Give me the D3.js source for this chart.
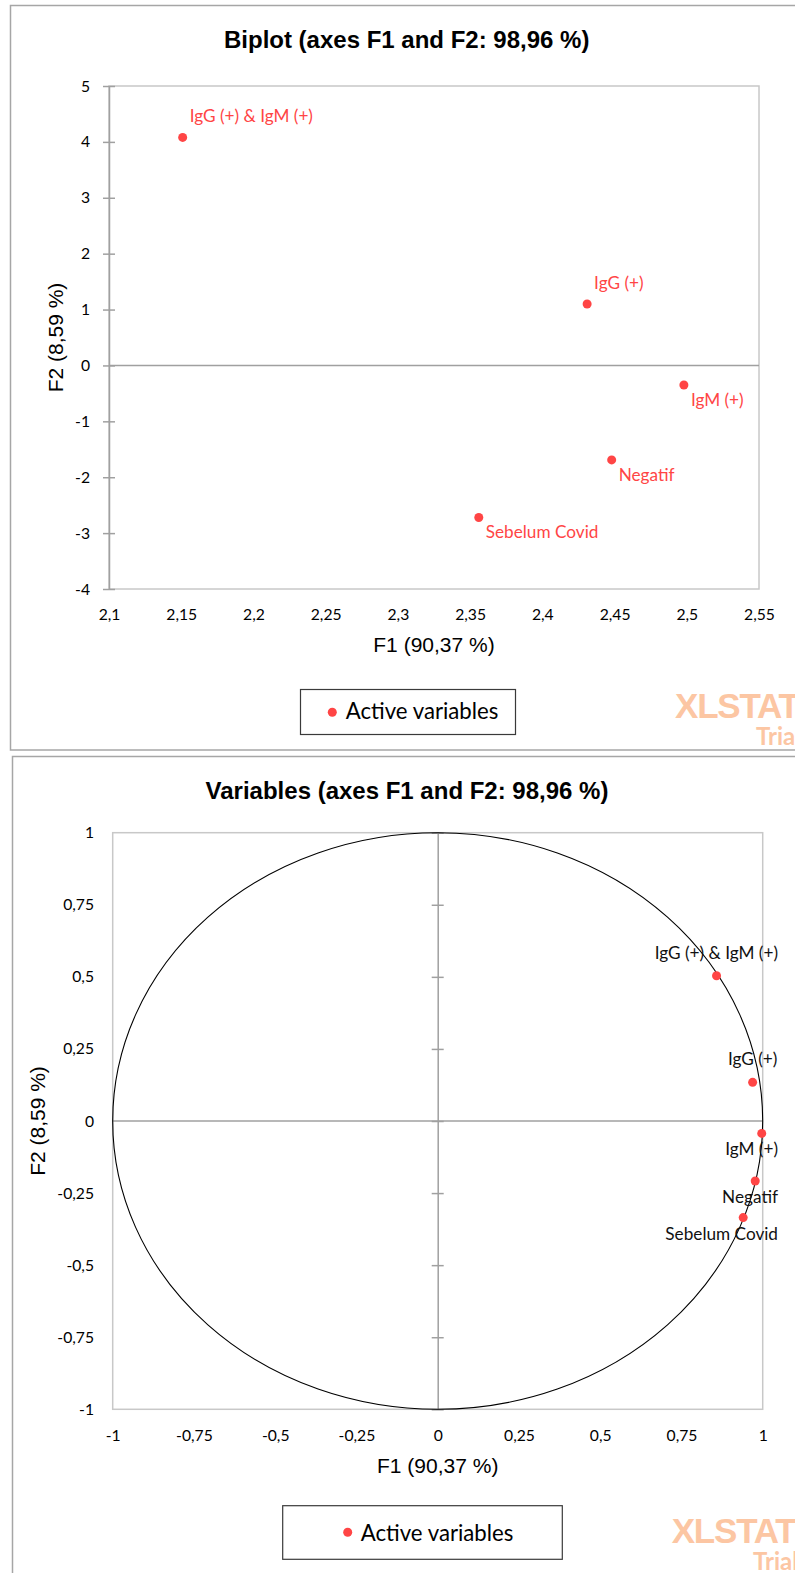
<!DOCTYPE html>
<html>
<head>
<meta charset="utf-8">
<script src="https://cdn.jsdelivr.net/npm/d3@7"></script>
<style>
  html, body { margin: 0; padding: 0; background: #fff; }
  svg { display: block; }
</style>
</head>
<body>
<div id="chart"></div>
<script>
// ---------------- DATA ----------------
const varNames = ["IgG (+) & IgM (+)", "IgG (+)", "IgM (+)", "Negatif", "Sebelum Covid"];

// Biplot (top)
const biplotF1 = [2.151, 2.431, 2.498, 2.448, 2.356];
const biplotF2 = [4.08, 1.10, -0.35, -1.69, -2.72];
const biplotLabelSide = ["above", "above", "below", "below", "below"];
const biplotXTicks = [2.1, 2.15, 2.2, 2.25, 2.3, 2.35, 2.4, 2.45, 2.5, 2.55];
const biplotYTicks = [-4, -3, -2, -1, 0, 1, 2, 3, 4, 5];

// Correlation circle (bottom)
const corrF1 = [0.858, 0.969, 0.997, 0.977, 0.940];
const corrF2 = [0.504, 0.134, -0.043, -0.208, -0.335];
const corrLabelSide = ["above", "above", "below", "below", "below"];
const corrTicks = [-1, -0.75, -0.5, -0.25, 0, 0.25, 0.5, 0.75, 1];

const titleTop = "Biplot (axes F1 and F2: 98,96 %)";
const titleBottom = "Variables (axes F1 and F2: 98,96 %)";
const xTitle = "F1 (90,37 %)";
const yTitle = "F2 (8,59 %)";
const legendText = "Active variables";

// ---------------- STYLE ----------------
const RED = "#ff4545";
const AXIS_GRAY = "#a0a0a0";
const BORDER_GRAY = "#c8c8c8";
const FRAME_GRAY = "#a6a6a6";
const WM = "#fcc6a3";
const SANS = "'Liberation Sans', Arial, sans-serif";
const CAL = "Lato, 'Open Sans', sans-serif";
const fmt = v => String(v).replace(".", ",");

const svg = d3.select("#chart").append("svg")
  .attr("width", 795).attr("height", 1573);
svg.append("rect").attr("width", 795).attr("height", 1573).attr("fill", "#fff");

// ---------- helpers ----------
function frame(x, y, w, h) {
  svg.append("rect").attr("x", x).attr("y", y).attr("width", w).attr("height", h)
    .attr("fill", "none").attr("stroke", FRAME_GRAY).attr("stroke-width", 1.5);
}
function title(txt, cx, baseline) {
  svg.append("text").attr("x", cx).attr("y", baseline).attr("text-anchor", "middle")
    .attr("font-family", SANS).attr("font-weight", "bold").attr("font-size", 24)
    .attr("fill", "#000").text(txt);
}
function legend(bx, by, bw, bh, dotX, dotY, textX, textBase) {
  svg.append("rect").attr("x", bx).attr("y", by).attr("width", bw).attr("height", bh)
    .attr("fill", "#fff").attr("stroke", "#3a3a3a").attr("stroke-width", 1.2);
  svg.append("circle").attr("cx", dotX).attr("cy", dotY).attr("r", 4.5).attr("fill", RED);
  svg.append("text").attr("x", textX).attr("y", textBase)
    .attr("font-family", CAL).attr("font-size", 22.2).attr("fill", "#000").text(legendText);
}
function watermark(x, base, trialX, trialBase) {
  svg.append("text").attr("x", x).attr("y", base)
    .attr("font-family", SANS).attr("font-weight", "bold").attr("font-size", 35)
    .attr("letter-spacing", -1.2).attr("fill", WM).text("XLSTAT");
  svg.append("text").attr("x", trialX).attr("y", trialBase)
    .attr("font-family", CAL).attr("font-weight", "bold").attr("font-size", 24)
    .attr("fill", WM).text("Trial");
}
function styleAxisText(g, size) {
  g.selectAll("text").attr("font-family", CAL).attr("font-size", size).attr("fill", "#000");
}

// =============== TOP: BIPLOT ===============
frame(10.5, 5.5, 800, 744.5);
title(titleTop, 406.7, 47.7);

const x1 = d3.scaleLinear().domain([2.1, 2.55]).range([109, 759]);
const y1 = d3.scaleLinear().domain([-4, 5]).range([589, 86]);

// plot area border
svg.append("rect").attr("x", x1(2.1)).attr("y", y1(5))
  .attr("width", x1(2.55) - x1(2.1)).attr("height", y1(-4) - y1(5))
  .attr("fill", "none").attr("stroke", BORDER_GRAY).attr("stroke-width", 1.5);

// zero line
svg.append("line").attr("x1", x1(2.1)).attr("x2", x1(2.55))
  .attr("y1", y1(0)).attr("y2", y1(0))
  .attr("stroke", AXIS_GRAY).attr("stroke-width", 1.5);

// y axis (cross ticks)
const gy1 = svg.append("g").attr("transform", `translate(${x1(2.1)},0)`)
  .call(d3.axisLeft(y1).tickValues(biplotYTicks).tickFormat(fmt)
    .tickSizeInner(6).tickSizeOuter(0).tickPadding(13));
gy1.select(".domain").attr("stroke", AXIS_GRAY).attr("stroke-width", 1.5);
gy1.selectAll(".tick line").attr("x1", -6).attr("x2", 6)
  .attr("stroke", AXIS_GRAY).attr("stroke-width", 1.5);
styleAxisText(gy1, 15.7);

// x axis labels (no ticks)
const gx1 = svg.append("g").attr("transform", `translate(0,${y1(-4)})`)
  .call(d3.axisBottom(x1).tickValues(biplotXTicks).tickFormat(fmt).tickSize(0));
gx1.select(".domain").remove();
styleAxisText(gx1, 15.7);
gx1.selectAll("text").attr("y", 31).attr("dy", null);

// axis titles
svg.append("text").attr("x", (x1(2.1) + x1(2.55)) / 2).attr("y", 651.7)
  .attr("text-anchor", "middle").attr("font-family", SANS).attr("font-size", 21)
  .attr("fill", "#000").text(xTitle);
svg.append("text").attr("transform", `translate(63.3,${(y1(5) + y1(-4)) / 2}) rotate(-90)`)
  .attr("text-anchor", "middle").attr("font-family", SANS).attr("font-size", 21)
  .attr("fill", "#000").text(yTitle);

// points + labels
const biplotData = varNames.map((n, i) => ({ n, f1: biplotF1[i], f2: biplotF2[i], side: biplotLabelSide[i] }));
svg.append("g").selectAll("circle").data(biplotData).join("circle")
  .attr("cx", d => x1(d.f1)).attr("cy", d => y1(d.f2)).attr("r", 4.5).attr("fill", RED);
svg.append("g").selectAll("text").data(biplotData).join("text")
  .attr("x", d => x1(d.f1) + 7)
  .attr("y", d => y1(d.f2) + (d.side === "above" ? -15 : 21))
  .attr("font-family", CAL).attr("font-size", 17.2).attr("fill", RED).text(d => d.n);

legend(300.5, 689.5, 215, 45, 332.3, 712.3, 345.7, 719.3);
watermark(675, 718, 756, 745);

// =============== BOTTOM: CORRELATION CIRCLE ===============
frame(12.5, 756.5, 800, 830);
title(titleBottom, 407, 799);

const x2 = d3.scaleLinear().domain([-1, 1]).range([112.7, 762.7]);
const y2 = d3.scaleLinear().domain([-1, 1]).range([1409.3, 832.7]);

svg.append("rect").attr("x", x2(-1)).attr("y", y2(1))
  .attr("width", x2(1) - x2(-1)).attr("height", y2(-1) - y2(1))
  .attr("fill", "none").attr("stroke", BORDER_GRAY).attr("stroke-width", 1.5);

// horizontal zero line
svg.append("line").attr("x1", x2(-1)).attr("x2", x2(1))
  .attr("y1", y2(0)).attr("y2", y2(0))
  .attr("stroke", AXIS_GRAY).attr("stroke-width", 1.5);

// vertical axis at x=0 with cross ticks (no labels)
const gyc = svg.append("g").attr("transform", `translate(${x2(0)},0)`)
  .call(d3.axisLeft(y2).tickValues(corrTicks).tickFormat("").tickSizeInner(6).tickSizeOuter(0));
gyc.select(".domain").attr("stroke", AXIS_GRAY).attr("stroke-width", 1.5);
gyc.selectAll(".tick line").attr("x1", -6).attr("x2", 6)
  .attr("stroke", AXIS_GRAY).attr("stroke-width", 1.5);

// y labels at the left
const gy2 = svg.append("g").attr("transform", `translate(${x2(-1)},0)`)
  .call(d3.axisLeft(y2).tickValues(corrTicks).tickFormat(fmt).tickSize(0).tickPadding(18.7));
gy2.select(".domain").remove();
styleAxisText(gy2, 15.7);

// x labels at bottom
const gx2 = svg.append("g").attr("transform", `translate(0,${y2(-1)})`)
  .call(d3.axisBottom(x2).tickValues(corrTicks).tickFormat(fmt).tickSize(0));
gx2.select(".domain").remove();
styleAxisText(gx2, 15.7);
gx2.selectAll("text").attr("y", 31.4).attr("dy", null);

// unit circle
svg.append("ellipse").attr("cx", x2(0)).attr("cy", y2(0))
  .attr("rx", x2(1) - x2(0)).attr("ry", y2(-1) - y2(0))
  .attr("fill", "none").attr("stroke", "#000").attr("stroke-width", 1.1);

svg.append("text").attr("x", x2(0)).attr("y", 1472.7)
  .attr("text-anchor", "middle").attr("font-family", SANS).attr("font-size", 21)
  .attr("fill", "#000").text(xTitle);
svg.append("text").attr("transform", `translate(45,${(y2(1) + y2(-1)) / 2}) rotate(-90)`)
  .attr("text-anchor", "middle").attr("font-family", SANS).attr("font-size", 21)
  .attr("fill", "#000").text(yTitle);

const corrData = varNames.map((n, i) => ({ n, f1: corrF1[i], f2: corrF2[i], side: corrLabelSide[i] }));
svg.append("g").selectAll("circle").data(corrData).join("circle")
  .attr("cx", d => x2(d.f1)).attr("cy", d => y2(d.f2)).attr("r", 4.5).attr("fill", RED);
const labelMaxRight = 778;
svg.append("g").selectAll("text").data(corrData).join("text")
  .attr("y", d => y2(d.f2) + (d.side === "above" ? -17 : 22))
  .attr("text-anchor", "middle")
  .attr("font-family", CAL).attr("font-size", 17.2).attr("fill", "#111").text(d => d.n)
  .attr("x", function (d) {
    const w = this.getComputedTextLength();
    return Math.min(x2(d.f1), labelMaxRight - w / 2);
  });

legend(282.7, 1505.7, 279.6, 53.6, 347.7, 1532.3, 360.7, 1540.7);
watermark(671.7, 1543.3, 753, 1570);
</script>
</body>
</html>
